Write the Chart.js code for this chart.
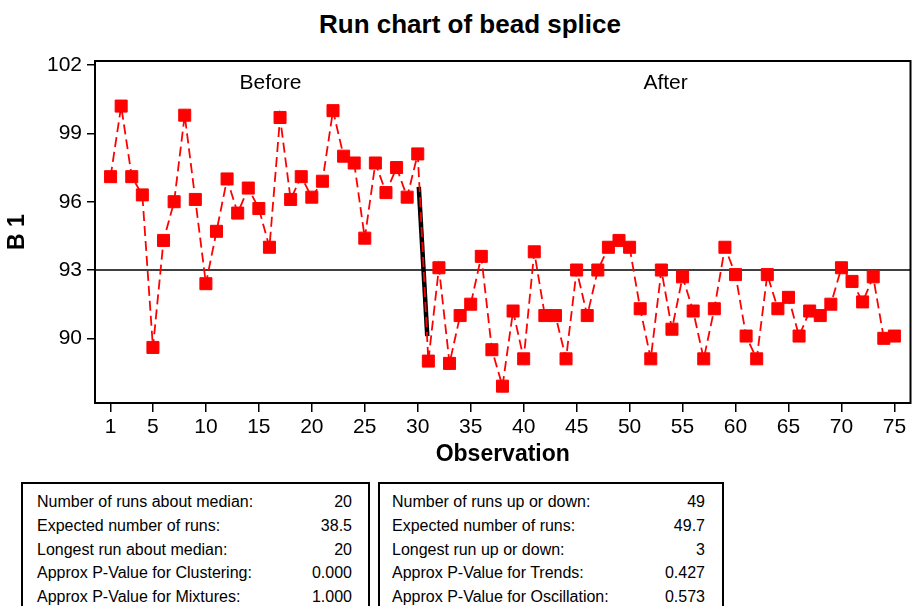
<!DOCTYPE html>
<html>
<head>
<meta charset="utf-8">
<script src="https://cdn.jsdelivr.net/npm/chart.js@4"></script>
<style>
  html, body { margin: 0; padding: 0; background: #fff; }
  body { width: 914px; height: 606px; overflow: hidden; position: relative; font-family: "Liberation Sans", Arial, sans-serif; }
  #title { position: absolute; left: 0; top: 9px; width: 940px; text-align: center; font-weight: bold; font-size: 26px; line-height: 30px; color: #000; }
  #wrap { position: absolute; left: 0; top: 0; width: 920px; height: 472px; }
  .box { position: absolute; top: 482px; height: 140px; border: 2px solid #000; box-sizing: border-box; padding-top: 6px; font-size: 16px; color: #000; }
  .row { display: flex; justify-content: space-between; line-height: 23.75px; height: 23.75px; white-space: nowrap; }
  #boxL { left: 21px; width: 349px; padding-left: 14px; padding-right: 16px; }
  #boxR { left: 378px; width: 346px; padding-left: 12px; padding-right: 17px; }
</style>
</head>
<body>
<div id="title">Run chart of bead splice</div>
<div id="wrap"><canvas id="runChart" width="920" height="472"></canvas></div>
<div class="box" id="boxL"></div>
<div class="box" id="boxR"></div>
<script>
// B 1 measurements, observations 1..75 (30 before, 45 after)
const b1 = [
  97.1, 100.2, 97.1, 96.3, 89.6, 94.3, 96.0, 99.8, 96.1, 92.4,
  94.7, 97.0, 95.5, 96.6, 95.7, 94.0, 99.7, 96.1, 97.1, 96.2,
  96.9, 100.0, 98.0, 97.7, 94.4, 97.7, 96.4, 97.5, 96.2, 98.1,
  89.0, 93.1, 88.9, 91.0, 91.5, 93.6, 89.5, 87.9, 91.2, 89.1,
  93.8, 91.0, 91.0, 89.1, 93.0, 91.0, 93.0, 94.0, 94.3, 94.0,
  91.3, 89.1, 93.0, 90.4, 92.7, 91.2, 89.1, 91.3, 94.0, 92.8,
  90.1, 89.1, 92.8, 91.3, 91.8, 90.1, 91.2, 91.0, 91.5, 93.1,
  92.5, 91.6, 92.7, 90.0, 90.1
];
const median = 93;
const shiftX = [30.1, 30.9];
const shiftY = [96.65, 90.1];
const phaseLabels = ["Before", "After"];
const phaseX = [16.1, 53.4];
const phaseY = 101.2;

const xTicks = [1, 5, 10, 15, 20, 25, 30, 35, 40, 45, 50, 55, 60, 65, 70, 75];
const yTicks = [90, 93, 96, 99, 102];
const X_MIN = -0.47, X_MAX = 76.52;
const Y_MIN = 87.16, Y_MAX = 102.18;

const medianLabels = [
  "Number of runs about median:", "Expected number of runs:", "Longest run about median:",
  "Approx P-Value for Clustering:", "Approx P-Value for Mixtures:"
];
const medianValues = ["20", "38.5", "20", "0.000", "1.000"];
const updownLabels = [
  "Number of runs up or down:", "Expected number of runs:", "Longest run up or down:",
  "Approx P-Value for Trends:", "Approx P-Value for Oscillation:"
];
const updownValues = ["49", "49.7", "3", "0.427", "0.573"];

const FONT = "'Liberation Sans', Arial, sans-serif";

function fillBox(id, labels, values) {
  document.getElementById(id).innerHTML = labels
    .map((l, i) => `<div class="row"><span>${l}</span><span>${values[i]}</span></div>`)
    .join("");
}
fillBox("boxL", medianLabels, medianValues);
fillBox("boxR", updownLabels, updownValues);

// frame around plot + phase labels
const framePlugin = {
  id: "frame",
  beforeDatasetsDraw(chart) {
    const { ctx, chartArea: a } = chart;
    ctx.save();
    ctx.strokeStyle = "#000";
    ctx.lineWidth = 2;
    ctx.strokeRect(a.left, a.top, a.right - a.left, a.bottom - a.top);
    ctx.restore();
  },
  afterDatasetsDraw(chart) {
    const { ctx, scales } = chart;
    ctx.save();
    ctx.fillStyle = "#000";
    ctx.font = `21px ${FONT}`;
    ctx.textAlign = "center";
    ctx.textBaseline = "middle";
    phaseLabels.forEach((t, i) => {
      ctx.fillText(t, scales.x.getPixelForValue(phaseX[i]), scales.y.getPixelForValue(phaseY));
    });
    ctx.restore();
  },
};

new Chart(document.getElementById("runChart"), {
  type: "line",
  data: {
    datasets: [
      {
        label: "B 1",
        data: b1.map((v, i) => ({ x: i + 1, y: v })),
        borderColor: "#ff0000",
        backgroundColor: "#ff0000",
        borderWidth: 1.8,
        borderDash: [10, 5],
        pointStyle: "rect",
        pointRadius: 8.5,
        pointBorderWidth: 1,
        pointBackgroundColor: "#ff0000",
        pointBorderColor: "#ff0000",
        tension: 0,
      },
      {
        label: "Shift",
        data: shiftX.map((x, i) => ({ x, y: shiftY[i] })),
        borderColor: "#000",
        borderWidth: 4.5,
        pointRadius: 0,
      },
      {
        label: "Median",
        data: [{ x: X_MIN, y: median }, { x: X_MAX, y: median }],
        borderColor: "#000",
        borderWidth: 1.5,
        pointRadius: 0,
      },
    ],
  },
  options: {
    responsive: false,
    animation: false,
    layout: { padding: { top: 61, right: 4, left: 0, bottom: 0 } },
    plugins: { legend: { display: false }, tooltip: { enabled: false }, title: { display: false } },
    scales: {
      x: {
        type: "linear",
        min: X_MIN,
        max: X_MAX,
        afterBuildTicks: s => { s.ticks = xTicks.map(v => ({ value: v })); },
        afterFit: s => { s.height = 69; s.paddingLeft = 0; s.paddingRight = 0; },
        border: { display: false },
        grid: { drawOnChartArea: false, drawTicks: true, tickLength: 9, color: "#000", lineWidth: 1.5 },
        ticks: { color: "#000", font: { family: FONT, size: 21 }, padding: 3, maxRotation: 0, autoSkip: false },
        title: { display: true, text: "Observation", color: "#000", font: { family: FONT, size: 23, weight: "bold" }, padding: { top: 0, bottom: 4 } },
      },
      y: {
        type: "linear",
        min: Y_MIN,
        max: Y_MAX,
        afterBuildTicks: s => { s.ticks = yTicks.map(v => ({ value: v })); },
        afterFit: s => { s.width = 95; s.paddingTop = 0; s.paddingBottom = 0; },
        border: { display: false },
        grid: { drawOnChartArea: false, drawTicks: true, tickLength: 8, color: "#000", lineWidth: 1.5 },
        ticks: { color: "#000", font: { family: FONT, size: 21 }, padding: 5 },
        title: { display: true, text: "B 1", color: "#000", font: { family: FONT, size: 23, weight: "bold" }, padding: { top: 4, bottom: 0 } },
      },
    },
  },
  plugins: [framePlugin],
});
</script>
</body>
</html>
